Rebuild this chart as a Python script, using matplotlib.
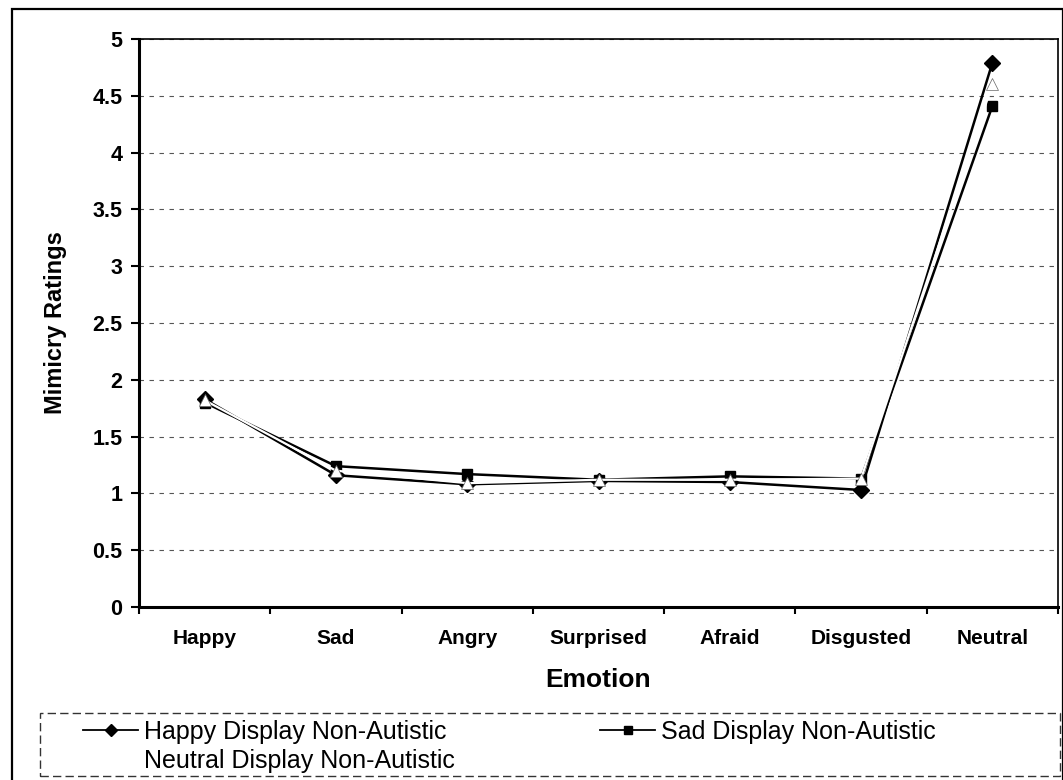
import numpy as np
import matplotlib
matplotlib.use('Agg')
import matplotlib.pyplot as plt
from matplotlib.lines import Line2D
from matplotlib.patches import Rectangle
from matplotlib.ticker import FixedLocator

plt.rcParams['font.family'] = ['Liberation Sans', 'DejaVu Sans']

emotions = ['Happy', 'Sad', 'Angry', 'Surprised', 'Afraid', 'Disgusted', 'Neutral']
happy_display = [1.83, 1.16, 1.08, 1.11, 1.10, 1.03, 4.79]
sad_display = [1.80, 1.24, 1.17, 1.12, 1.15, 1.13, 4.41]
neutral_display = [1.82, 1.20, 1.09, 1.12, 1.12, 1.13, 4.60]
series_labels = ['Happy Display Non-Autistic', 'Sad Display Non-Autistic',
                 'Neutral Display Non-Autistic']
y_ticks = [0, 0.5, 1, 1.5, 2, 2.5, 3, 3.5, 4, 4.5, 5]

W, H = 1063, 780
fig = plt.figure(figsize=(W / 100, H / 100), dpi=100)
ax = fig.add_axes([139 / W, 1 - 607 / H, (1058 - 139) / W, (607 - 39) / H])

x = np.arange(len(emotions))
ax.plot(x, happy_display, color='black', lw=1.8, marker='D', ms=8,
        mfc='black', mec='black', zorder=3)
ax.plot(x, sad_display, color='black', lw=1.8, marker='s', ms=7.5,
        mfc='black', mec='black', zorder=3)
ax.plot(x, neutral_display, color='white', lw=1.6, marker='^', ms=8,
        mfc='white', mec='#666666', mew=0.5, zorder=4)

ax.set_xlim(-0.5, len(emotions) - 0.5)
ax.set_ylim(0, 5)
ax.set_yticks(y_ticks)
ax.set_yticklabels([f'{v:g}' for v in y_ticks])
ax.set_xticks(x)
ax.set_xticklabels(emotions)
ax.xaxis.set_minor_locator(FixedLocator(np.arange(-0.5, len(emotions), 1.0)))

ax.tick_params(axis='x', which='major', length=0, pad=16, labelsize=15)
ax.tick_params(axis='x', which='minor', length=5, width=1.5, direction='out')
ax.tick_params(axis='y', length=6, width=1.5, direction='out', pad=6, labelsize=15.5)
for lab in ax.get_xticklabels() + ax.get_yticklabels():
    lab.set_fontweight('bold')

ax.yaxis.grid(True, linestyle=(0, (4, 5)), color='#555555', lw=0.8)
ax.set_axisbelow(True)

ax.spines['left'].set_linewidth(2.2)
ax.spines['bottom'].set_linewidth(2.2)
ax.spines['top'].set_linewidth(1.2)
ax.spines['right'].set_linewidth(1.2)

ax.set_xlabel('Emotion', fontsize=19, fontweight='bold', labelpad=14)
ax.set_ylabel('Mimicry Ratings', fontsize=17, fontweight='bold', labelpad=18)

# legend (no frame; dashed box drawn separately)
handles = [
    Line2D([], [], color='black', lw=1.3, marker='D', ms=6, mfc='black', mec='black'),
    Line2D([], [], color='white', lw=1.3),
    Line2D([], [], color='black', lw=1.3, marker='s', ms=6, mfc='black', mec='black'),
]
labels = [series_labels[0], series_labels[2], series_labels[1]]
fig.legend(handles, labels, loc='upper left', bbox_to_anchor=(83 / W, 1 - 720 / H),
           ncol=2, frameon=False, fontsize=18, handlelength=2.2, handletextpad=0.25,
           columnspacing=5.8, labelspacing=0.2, borderpad=0, borderaxespad=0)

fig.patches.append(Rectangle((40 / W, 1 - 776 / H), (1060 - 40) / W, (776 - 713) / H,
                             transform=fig.transFigure, fill=False, lw=1.0,
                             ls=(0, (6, 3)), edgecolor='#333333'))
# outer chart border
fig.patches.append(Rectangle((12 / W, -0.01), (W - 12) / W, 1 - 9 / H + 0.01,
                             transform=fig.transFigure, fill=False, lw=1.6,
                             edgecolor='black'))

fig.savefig('out.png', dpi=100)
plt.close(fig)
